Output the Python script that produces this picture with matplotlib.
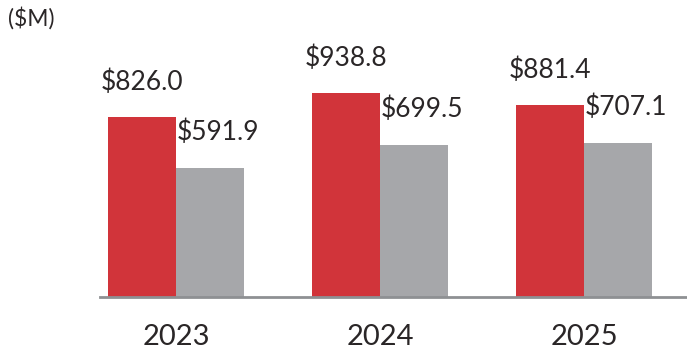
import numpy as np
import matplotlib.pyplot as plt

plt.rcParams['font.family'] = ['Lato', 'DejaVu Sans']

years = ['2023', '2024', '2025']
red_vals = [826.0, 938.8, 881.4]
gray_vals = [591.9, 699.5, 707.1]

red = '#d1343a'
gray = '#a6a7aa'
text_col = '#2a2627'

fig = plt.figure(figsize=(6.87, 3.54), dpi=100)
ax = fig.add_axes([100 / 687, 57.5 / 354, 587 / 687, 296.5 / 354])

x = np.arange(len(years))
w = 68 / 204
ax.bar(x - w / 2, red_vals, width=w, color=red, zorder=2)
ax.bar(x + w / 2, gray_vals, width=w, color=gray, zorder=2)

# Wertelabels ueber den Balken
for i in range(len(years)):
    ax.annotate('${:.1f}'.format(red_vals[i]), (x[i] - w / 2, red_vals[i]),
                xytext=(0, 25), textcoords='offset points',
                ha='center', va='center', fontsize=19, color=text_col)
    ax.annotate('${:.1f}'.format(gray_vals[i]), (x[i] + w / 2, gray_vals[i]),
                xytext=(6, 25.5), textcoords='offset points',
                ha='center', va='center', fontsize=19, color=text_col)

ax.axhline(0, color='#8e9093', linewidth=2, zorder=3, clip_on=False)

ax.set_xlim(-76 / 204, 511 / 204)
ax.set_ylim(0, 296.5 / 0.217)
ax.set_xticks(x)
ax.set_xticklabels(years, fontsize=21, color=text_col)
ax.tick_params(axis='x', length=0, pad=20)
ax.set_yticks([])
for s in ax.spines.values():
    s.set_visible(False)

fig.text(8 / 687, 1 - 18 / 354, '($M)', fontsize=16.5, color=text_col,
         ha='left', va='center')

fig.savefig('out.png', dpi=100)
